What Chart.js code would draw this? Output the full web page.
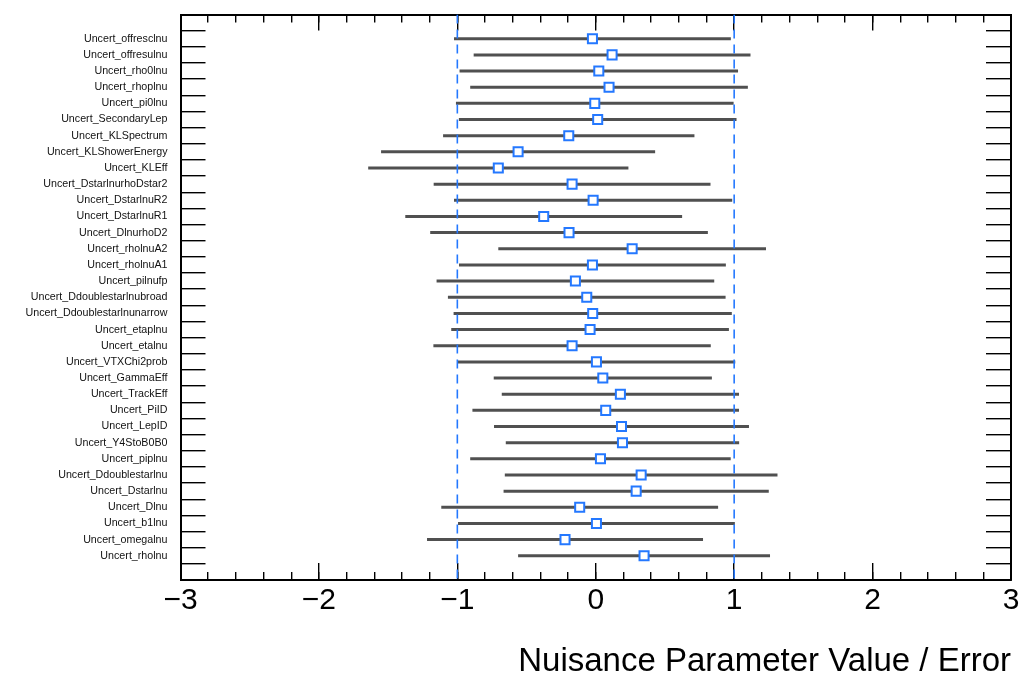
<!DOCTYPE html>
<html><head><meta charset="utf-8">
<script src="https://cdn.jsdelivr.net/npm/chart.js@4/dist/chart.umd.min.js"></script>
<style>html,body{margin:0;padding:0;background:#fff;} canvas{display:block;}</style>
</head><body>
<canvas id="c" width="1036" height="675"></canvas>
<script>
const categories = ["Uncert_offresclnu","Uncert_offresulnu","Uncert_rho0lnu","Uncert_rhoplnu","Uncert_pi0lnu","Uncert_SecondaryLep","Uncert_KLSpectrum","Uncert_KLShowerEnergy","Uncert_KLEff","Uncert_DstarlnurhoDstar2","Uncert_DstarlnuR2","Uncert_DstarlnuR1","Uncert_DlnurhoD2","Uncert_rholnuA2","Uncert_rholnuA1","Uncert_pilnufp","Uncert_Ddoublestarlnubroad","Uncert_Ddoublestarlnunarrow","Uncert_etaplnu","Uncert_etalnu","Uncert_VTXChi2prob","Uncert_GammaEff","Uncert_TrackEff","Uncert_PiID","Uncert_LepID","Uncert_Y4StoB0B0","Uncert_piplnu","Uncert_Ddoublestarlnu","Uncert_Dstarlnu","Uncert_Dlnu","Uncert_b1lnu","Uncert_omegalnu","Uncert_rholnu"];
const pulls = [-0.024,0.118,0.022,0.096,-0.007,0.014,-0.195,-0.561,-0.704,-0.171,-0.019,-0.376,-0.193,0.263,-0.024,-0.147,-0.065,-0.022,-0.041,-0.171,0.005,0.051,0.178,0.072,0.186,0.193,0.034,0.328,0.292,-0.116,0.005,-0.222,0.349];
const errors = [1.000,1.000,1.006,1.003,1.003,1.003,0.908,0.990,0.940,1.000,1.005,1.000,1.003,0.967,0.964,1.003,1.003,1.005,1.003,1.002,1.003,0.788,0.857,0.963,0.921,0.843,0.941,0.985,0.958,1.000,1.000,0.997,0.910];
const xMajorTicks = [-3,-2,-1,0,1,2,3];
const refLines = [-1, 1];
const xTitle = "Nuisance Parameter Value / Error";

const X_MIN = -3, X_MAX = 3, Y_MIN = 0, Y_MAX = categories.length + 2;
const FONT = "'Liberation Sans', Arial, Helvetica, sans-serif";
const BLUE = '#2478ff';
const rowPos = i => i + 1.5;

const intTicks = () => { const t = []; for (let v = Y_MIN; v <= Y_MAX; v++) t.push({value: v}); return t; };
const minorX = () => { const t = []; for (let k = 0; k <= 30; k++) t.push({value: +(X_MIN + k * 0.2).toFixed(2)}); return t; };
const majorX = () => xMajorTicks.map(v => ({value: v}));
const noPad = s => { s.paddingTop = 0; s.paddingBottom = 0; s.paddingLeft = 0; s.paddingRight = 0; };

const errDatasets = categories.map((c, i) => ({
  type: 'line', label: c, showLine: true,
  data: [{x: pulls[i] - errors[i], y: rowPos(i)}, {x: pulls[i] + errors[i], y: rowPos(i)}],
  borderColor: '#505050', borderWidth: 3, pointRadius: 0, order: 2,
  xAxisID: 'x', yAxisID: 'y'
}));
const refDatasets = refLines.map(v => ({
  type: 'line', showLine: true,
  data: [{x: v, y: Y_MIN}, {x: v, y: Y_MAX}],
  borderColor: BLUE, borderWidth: 1.6, borderDash: [9, 6], pointRadius: 0, order: 1,
  xAxisID: 'x', yAxisID: 'y'
}));
const pointDataset = {
  type: 'scatter',
  data: categories.map((c, i) => ({x: pulls[i], y: rowPos(i)})),
  pointStyle: 'rect', pointRadius: 6.4, backgroundColor: '#ffffff', borderColor: BLUE, borderWidth: 2,
  order: 0, xAxisID: 'x', yAxisID: 'y'
};

const tickGrid = (len) => ({display: true, drawOnChartArea: false, drawTicks: true, tickLength: len, color: '#000', tickColor: '#000', tickWidth: 1.4, lineWidth: 1.4});
const frameBorder = {display: true, color: '#000', width: 2};
const noBorder = {display: false};

new Chart(document.getElementById('c'), {
  type: 'scatter',
  data: {datasets: [pointDataset, ...refDatasets, ...errDatasets]},
  options: {
    responsive: false, animation: false, devicePixelRatio: 1,
    layout: {padding: 0},
    plugins: {legend: {display: false}, tooltip: {enabled: false}},
    scales: {
      x: {
        type: 'linear', position: 'bottom', weight: 1, min: X_MIN, max: X_MAX,
        afterBuildTicks: s => { s.ticks = majorX(); },
        ticks: {autoSkip: false, maxRotation: 0, padding: 20, color: '#000', font: {family: FONT, size: 30},
          callback: v => (v < 0 ? '\u2212' + Math.abs(v) : String(v))},
        grid: tickGrid(-17), border: frameBorder,
        title: {display: true, text: xTitle, align: 'end', color: '#000', font: {family: FONT, size: 33, lineHeight: 0.8}, padding: 0},
        afterFit: s => { s.height = 95; noPad(s); }
      },
      xMinor: {
        type: 'linear', position: 'bottom', weight: 0, min: X_MIN, max: X_MAX,
        afterBuildTicks: s => { s.ticks = minorX(); },
        ticks: {display: false}, grid: tickGrid(-8), border: noBorder,
        afterFit: s => { s.height = 0; noPad(s); }
      },
      xTop: {
        type: 'linear', position: 'top', weight: 1, min: X_MIN, max: X_MAX,
        afterBuildTicks: s => { s.ticks = majorX(); },
        ticks: {display: false}, grid: tickGrid(-16), border: frameBorder,
        afterFit: s => { s.height = 14.5; noPad(s); }
      },
      xTopMinor: {
        type: 'linear', position: 'top', weight: 0, min: X_MIN, max: X_MAX,
        afterBuildTicks: s => { s.ticks = minorX(); },
        ticks: {display: false}, grid: tickGrid(-8), border: noBorder,
        afterFit: s => { s.height = 0; noPad(s); }
      },
      y: {
        type: 'linear', position: 'left', weight: 0, min: Y_MIN, max: Y_MAX, reverse: true,
        afterBuildTicks: s => { s.ticks = intTicks(); },
        ticks: {display: false}, grid: tickGrid(-25), border: frameBorder,
        afterFit: s => { s.width = 0; noPad(s); }
      },
      yLabels: {
        type: 'linear', position: 'left', weight: 1, min: Y_MIN, max: Y_MAX, reverse: true,
        afterBuildTicks: s => { s.ticks = categories.map((c, i) => ({value: rowPos(i)})); },
        ticks: {autoSkip: false, padding: 13, color: '#111', font: {family: FONT, size: 10.7},
          callback: (v, i) => categories[i]},
        grid: {display: false, drawTicks: false}, border: noBorder,
        afterFit: s => { s.width = 180.5; noPad(s); }
      },
      yRight: {
        type: 'linear', position: 'right', weight: 0, min: Y_MIN, max: Y_MAX, reverse: true,
        afterBuildTicks: s => { s.ticks = intTicks(); },
        ticks: {display: false}, grid: tickGrid(-25), border: frameBorder,
        afterFit: s => { s.width = 25; noPad(s); }
      }
    }
  }
});
</script>
</body></html>
